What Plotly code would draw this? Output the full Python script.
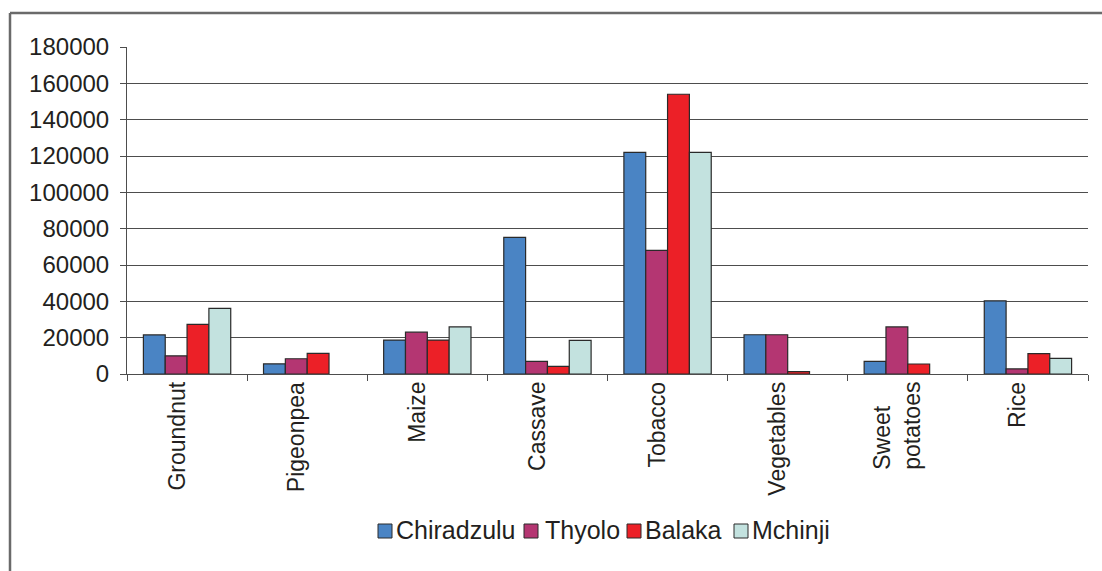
import plotly.graph_objects as go

# Crop categories and yields per district (None = no bar)
crops = ["Groundnut", "Pigeonpea", "Maize", "Cassave", "Tobacco",
         "Vegetables", "Sweet<br>potatoes", "Rice"]
chiradzulu = [21500, 5600, 18700, 75200, 122000, 21600, 7000, 40300]
thyolo = [10000, 8400, 23000, 7000, 68000, 21600, 25900, 2800]
balaka = [27300, 11400, 18700, 4200, 154000, 1300, 5500, 11200]
mchinji = [36100, None, 25900, 18500, 122000, None, None, 8600]

district_names = ["Chiradzulu", "Thyolo", "Balaka", "Mchinji"]
district_values = [chiradzulu, thyolo, balaka, mchinji]
district_colors = ["#4a84c4", "#b43672", "#ec2027", "#c3e2df"]

y_ticks = list(range(0, 180001, 20000))

W, H = 1102, 571
ML, MR, MT, MB = 127, 14, 47, 197
PW, PH = W - ML - MR, H - MT - MB

FONT = "Liberation Sans, Arial, sans-serif"
TEXT = "#231f20"
GRID = "#4d4d4d"

# Key layout (pixel positions of each swatch and its label)
KEY_SWATCH_LEFT = [378, 524, 627, 734]
KEY_TEXT_LEFT = [395, 544, 644, 751]
KEY_MID_Y = 530
KEY_SWATCH = 14


def px_x(px):
    return (px - ML) / PW


def px_y(py):
    return (H - MB - py) / PH


fig = go.Figure()
for name, vals, col in zip(district_names, district_values, district_colors):
    fig.add_trace(go.Bar(
        x=crops, y=vals, name=name, showlegend=False,
        marker=dict(color=col, line=dict(color="#2a2a2a", width=1.2)),
    ))

# Category labels, rotated, hanging below the axis
for c in crops:
    fig.add_annotation(
        x=c, xref="x", y=0, yref="paper",
        text=c, showarrow=False, textangle=-90,
        xanchor="center", yanchor="top", align="left",
        yshift=-6, xshift=-11,
        font=dict(family=FONT, size=23, color=TEXT),
    )

# Key: outlined swatch followed by the district name
for name, col, sx, tx in zip(district_names, district_colors,
                             KEY_SWATCH_LEFT, KEY_TEXT_LEFT):
    fig.add_shape(
        type="rect", xref="paper", yref="paper",
        x0=px_x(sx), x1=px_x(sx + KEY_SWATCH),
        y0=px_y(KEY_MID_Y - KEY_SWATCH / 2 + 1),
        y1=px_y(KEY_MID_Y + KEY_SWATCH / 2 + 1),
        fillcolor=col, line=dict(color="#2a2a2a", width=1),
    )
    fig.add_annotation(
        x=px_x(tx), xref="paper", y=px_y(KEY_MID_Y), yref="paper",
        xanchor="left", yanchor="middle", showarrow=False,
        text=name, borderpad=0,
        font=dict(family=FONT, size=25, color=TEXT),
    )

# Outer frame (top and left edges)
fig.add_shape(type="line", xref="paper", yref="paper",
              x0=px_x(10), x1=px_x(W + 5), y0=px_y(13), y1=px_y(13),
              line=dict(color="#6a6a6a", width=2.5))
fig.add_shape(type="line", xref="paper", yref="paper",
              x0=px_x(10), x1=px_x(10), y0=px_y(13), y1=px_y(H + 5),
              line=dict(color="#6a6a6a", width=2.5))

fig.update_layout(
    width=W, height=H,
    margin=dict(l=ML, r=MR, t=MT, b=MB, pad=0),
    paper_bgcolor="white", plot_bgcolor="white",
    barmode="group", bargap=0.273, bargroupgap=0,
    font=dict(family=FONT, size=23, color=TEXT),
    showlegend=False,
    xaxis=dict(
        type="category", showticklabels=False,
        showline=True, linecolor=GRID, linewidth=1,
        ticks="outside", tickson="boundaries", ticklen=6,
        tickcolor=GRID, showgrid=False, zeroline=False,
        range=[-0.5, len(crops) - 0.5],
    ),
    yaxis=dict(
        range=[0, 180000], tickvals=y_ticks,
        ticktext=[str(v) for v in y_ticks],
        showgrid=True, gridcolor=GRID, gridwidth=1,
        showline=True, linecolor=GRID, linewidth=1,
        ticks="outside", ticklen=6, tickcolor=GRID,
        ticklabelstandoff=6, zeroline=False,
        tickfont=dict(family=FONT, size=24, color=TEXT),
    ),
)

fig.write_html("out.html")
